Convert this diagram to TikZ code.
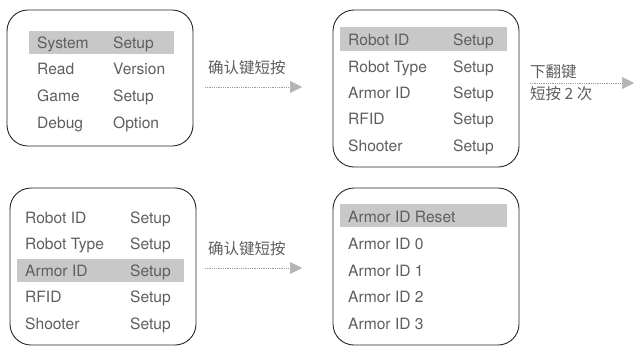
\documentclass[tikz,border=0pt]{standalone}
\usepackage{fontspec}
\setmainfont{TeX Gyre Heros}
\newfontfamily\cjk{Noto Sans CJK SC}
\usetikzlibrary{arrows.meta}
\definecolor{txtgray}{HTML}{5E5E5E}
\definecolor{hlgray}{HTML}{C8C8C8}
\definecolor{dotgray}{HTML}{9A9A9A}
\definecolor{tipgray}{HTML}{B4B4B4}
\begin{document}
\begin{tikzpicture}[x=1pt,y=-1pt,
  menubox/.style={draw=black!85,line width=0.9pt,rounded corners=21pt,inner sep=0pt},
  hl/.style={fill=hlgray},
  rowtext/.style={anchor=base west,inner sep=0pt,text=txtgray,font=\fontsize{15.6}{18}\selectfont},
  cjklabel/.style={anchor=west,inner sep=0pt,text=txtgray,font=\cjk\fontsize{15.5}{18}\selectfont},
  flowarrow/.style={draw=dotgray,line width=0.7pt,dash pattern=on 0.7pt off 1.1pt,
    -{Triangle[length=12pt,width=12pt,fill=tipgray,color=tipgray]}}]
\useasboundingbox (0,0) rectangle (634,346);

% menu frames
\node[menubox,minimum width=186pt,minimum height=136pt] (main) at (100,78) {};
\node[menubox,minimum width=186pt,minimum height=157pt] (setupA) at (426,88.5) {};
\node[menubox,minimum width=186pt,minimum height=157pt] (setupB) at (103,266.5) {};
\node[menubox,minimum width=186pt,minimum height=157pt] (armor) at (426,266.5) {};

% highlighted entries
\fill[hl] (29,31) rectangle (174,54);
\fill[hl] (340,27) rectangle (507,51);
\fill[hl] (17,259) rectangle (184,282);
\fill[hl] (340,204) rectangle (507,227);

% main menu
\node[rowtext] (m1a) at (37,48.5) {System};
\node[rowtext] (m1b) at (113,48.5) {Setup};
\node[rowtext] (m2a) at (37,74.5) {Read};
\node[rowtext] (m2b) at (113,74.5) {Version};
\node[rowtext] (m3a) at (37,101.5) {Game};
\node[rowtext] (m3b) at (113,101.5) {Setup};
\node[rowtext] (m4a) at (37,128.5) {Debug};
\node[rowtext] (m4b) at (113,128.5) {Option};

% system setup menu, first item selected
\node[rowtext] (a1a) at (348,45.5) {Robot ID};
\node[rowtext] (a1b) at (453,45.5) {Setup};
\node[rowtext] (a2a) at (348,72.5) {Robot Type};
\node[rowtext] (a2b) at (453,72.5) {Setup};
\node[rowtext] (a3a) at (348,98.5) {Armor ID};
\node[rowtext] (a3b) at (453,98.5) {Setup};
\node[rowtext] (a4a) at (348,124.5) {RFID};
\node[rowtext] (a4b) at (453,124.5) {Setup};
\node[rowtext] (a5a) at (348,151.5) {Shooter};
\node[rowtext] (a5b) at (453,151.5) {Setup};

% system setup menu, Armor ID selected
\node[rowtext] (b1a) at (25,223.5) {Robot ID};
\node[rowtext] (b1b) at (130,223.5) {Setup};
\node[rowtext] (b2a) at (25,249.5) {Robot Type};
\node[rowtext] (b2b) at (130,249.5) {Setup};
\node[rowtext] (b3a) at (25,276.5) {Armor ID};
\node[rowtext] (b3b) at (130,276.5) {Setup};
\node[rowtext] (b4a) at (25,302.5) {RFID};
\node[rowtext] (b4b) at (130,302.5) {Setup};
\node[rowtext] (b5a) at (25,329.5) {Shooter};
\node[rowtext] (b5b) at (130,329.5) {Setup};

% armor id menu
\node[rowtext] (c1) at (348,222.5) {Armor ID Reset};
\node[rowtext] (c2) at (348,249.5) {Armor ID 0};
\node[rowtext] (c3) at (348,276.5) {Armor ID 1};
\node[rowtext] (c4) at (348,302.5) {Armor ID 2};
\node[rowtext] (c5) at (348,329.5) {Armor ID 3};

% transitions
\coordinate (t1s) at (205,87);
\coordinate (t1e) at (302,87);
\coordinate (t2s) at (530,83);
\coordinate (t2e) at (634,83);
\coordinate (t3s) at (205,268);
\coordinate (t3e) at (302,268);
\draw[flowarrow] (t1s) -- (t1e);
\draw[flowarrow] (t2s) -- (t2e);
\draw[flowarrow] (t3s) -- (t3e);

\node[cjklabel] (l1) at (208,68) {确认键短按};
\node[cjklabel] (l2a) at (530,72) {下翻键};
\node[cjklabel] (l2b) at (530,94) {短按 2 次};
\node[cjklabel] (l3) at (208,249) {确认键短按};
\end{tikzpicture}
\end{document}
